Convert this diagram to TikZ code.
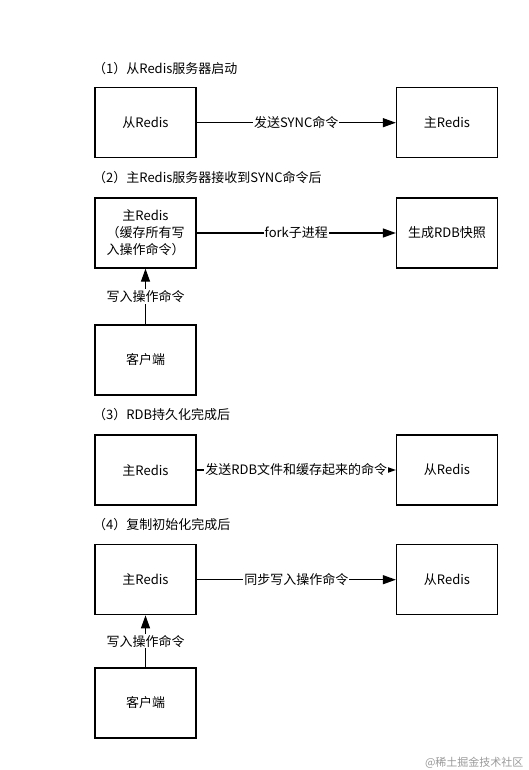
\documentclass[tikz,border=0pt]{standalone}
\usepackage{fontspec}
\setmainfont{Noto Sans CJK SC}
\usepackage{tikz}
\usetikzlibrary{arrows.meta}

\tikzset{
  box/.style={draw, line width=1.3pt, minimum width=101pt, minimum height=70pt,
    align=center, font=\fontsize{13}{17}\selectfont},
  lab/.style={fill=white, inner sep=1pt, font=\fontsize{13}{15}\selectfont},
  ttl/.style={anchor=west, inner sep=0pt, font=\fontsize{13}{15}\selectfont},
  arr/.style={line width=1.3pt, -{Triangle[length=13pt,width=9pt]}}
}

\begin{document}
\begin{tikzpicture}[x=1pt,y=-1pt]
\useasboundingbox (0,0) rectangle (529,770);

%-------------------------------------
\node[ttl] (t1) at (93,69) {（1）从Redis服务器启动};
\node[box] (s1) at (145.5,122.7) {从Redis};
\node[box] (m1) at (447,122.7) {主Redis};
\draw[arr] (s1) -- node[lab]{发送SYNC命令} (m1);

%-------------------------------------
\node[ttl] (t2) at (93,178) {（2）主Redis服务器接收到SYNC命令后};
\node[box] (m2) at (145.5,233) {主Redis\\（缓存所有写\\入操作命令）};
\node[box] (r2) at (447,233) {生成RDB快照};
\node[box] (c2) at (145.5,360) {客户端};
\draw[arr] (m2) -- node[lab]{fork子进程} (r2);
\draw[arr] (c2) -- node[lab]{写入操作命令} (m2);

%-------------------------------------
\node[ttl] (t3) at (93,415) {（3）RDB持久化完成后};
\node[box] (m3) at (145.5,470) {主Redis};
\node[box] (s3) at (447,470) {从Redis};
\draw[arr] (m3) -- node[lab]{发送RDB文件和缓存起来的命令} (s3);

%-------------------------------------
\node[ttl] (t4) at (93,525) {（4）复制初始化完成后};
\node[box] (m4) at (145.5,579.7) {主Redis};
\node[box] (s4) at (447,579.7) {从Redis};
\node[box] (c4) at (145.5,703) {客户端};
\draw[arr] (m4) -- node[lab]{同步写入操作命令} (s4);
\draw[arr] (c4) -- node[lab]{写入操作命令} (m4);

\node[anchor=east, text=black!40, font=\fontsize{11}{13}\selectfont] (wm) at (527,763) {@稀土掘金技术社区};
\end{tikzpicture}
\end{document}
